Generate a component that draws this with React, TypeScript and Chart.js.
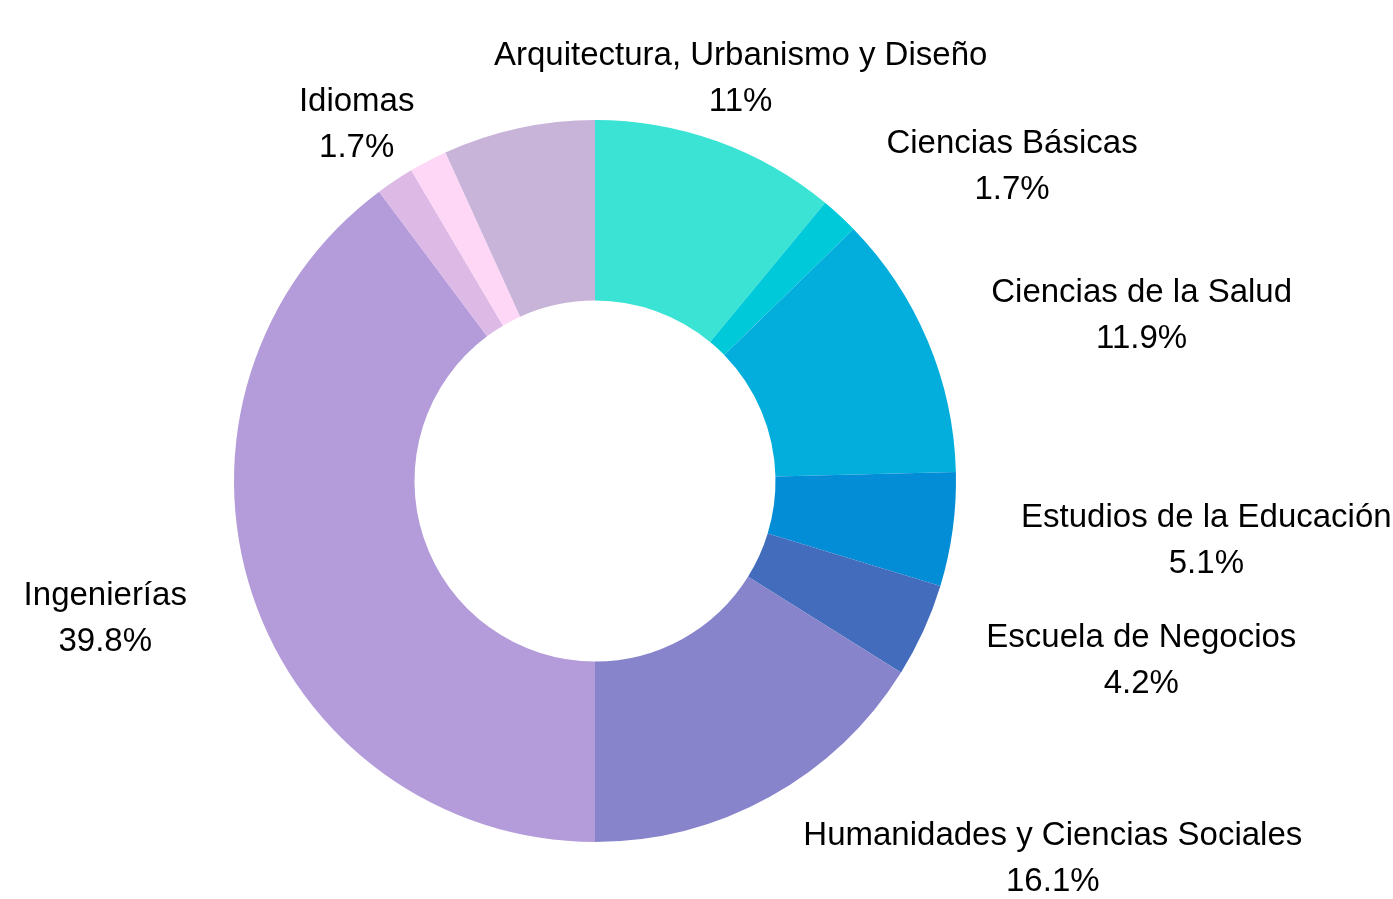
import React, { useEffect, useRef } from "react";
import { Chart, registerables } from "chart.js";

Chart.register(...registerables);

const categories = [
  "Arquitectura, Urbanismo y Diseño",
  "Ciencias Básicas",
  "Ciencias de la Salud",
  "Estudios de la Educación",
  "Escuela de Negocios",
  "Humanidades y Ciencias Sociales",
  "Ingenierías",
  "Idiomas",
  "Otras áreas",
  "Otros",
];
const percentages = [11, 1.7, 11.9, 5.1, 4.2, 16.1, 39.8, 1.7, 1.7, 6.8];
const showLabel = [true, true, true, true, true, true, true, true, false, false];
const colors = [
  "#3BE3D5",
  "#00CAD9",
  "#03AEDC",
  "#038DD6",
  "#436DBC",
  "#8884CB",
  "#B49CDA",
  "#DDB9E6",
  "#FDD7F5",
  "#C8B3D9",
];

const FONT = '33px "Liberation Sans", Arial, sans-serif';
const LINE_H = 46;
const LABEL_GAP = 69;

const labelPlugin = {
  id: "outerLabels",
  afterDatasetsDraw(chart: any) {
    const ctx = chart.ctx;
    const meta = chart.getDatasetMeta(0);
    ctx.save();
    ctx.font = FONT;
    ctx.fillStyle = "#000";
    ctx.textBaseline = "middle";
    meta.data.forEach((arc: any, i: number) => {
      if (!showLabel[i]) return;
      const mid = (arc.startAngle + arc.endAngle) / 2;
      const r = arc.outerRadius + LABEL_GAP;
      const ax = arc.x + Math.cos(mid) * r;
      const ay = arc.y + Math.sin(mid) * r;
      const lines = [categories[i], `${percentages[i]}%`];
      const w = Math.max(...lines.map((l) => ctx.measureText(l).width));
      const fromTopCos = -Math.sin(mid);
      let cx: number;
      if (fromTopCos > 0.8 || fromTopCos < -0.95) cx = ax;
      else if (Math.cos(mid) > 0) cx = ax + w / 2;
      else cx = ax - w / 2;
      ctx.textAlign = "center";
      const y0 = ay + 2 - ((lines.length - 1) * LINE_H) / 2;
      lines.forEach((l, k) => ctx.fillText(l, cx, y0 + k * LINE_H));
    });
    ctx.restore();
  },
};

export default function App() {
  const ref = useRef<HTMLCanvasElement>(null);
  useEffect(() => {
    document.body.style.margin = "0";
    const chart = new Chart(ref.current!, {
      type: "doughnut",
      data: {
        labels: categories,
        datasets: [
          {
            data: percentages,
            backgroundColor: colors,
            borderWidth: 0,
          },
        ],
      },
      options: {
        animation: false,
        responsive: false,
        maintainAspectRatio: false,
        cutout: "50%",
        layout: { padding: { top: 120, bottom: 57, left: 234, right: 437 } },
        plugins: {
          legend: { display: false },
          tooltip: { enabled: false },
        },
      },
      plugins: [labelPlugin],
    });
    return () => chart.destroy();
  }, []);
  return (
    <div style={{ width: 1393, height: 899, background: "#fff" }}>
      <canvas ref={ref} width={1393} height={899} />
    </div>
  );
}
